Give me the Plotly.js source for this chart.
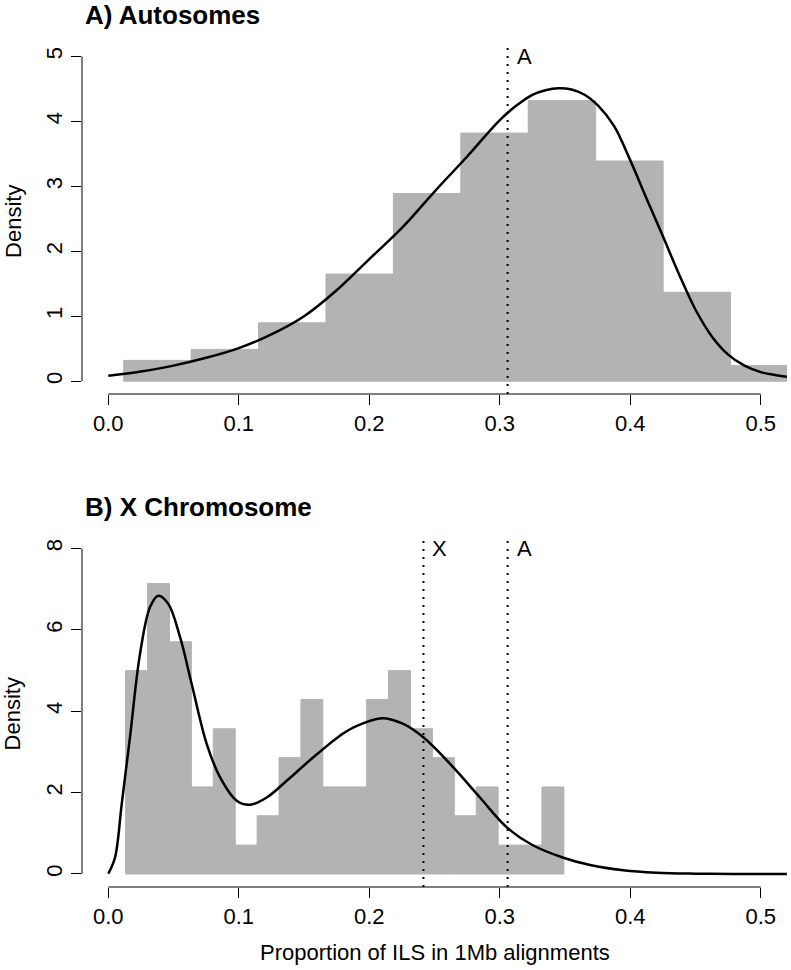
<!DOCTYPE html>
<html>
<head>
<meta charset="utf-8">
<script src="https://cdn.plot.ly/plotly-3.0.1.min.js"></script>
<style>
  html, body { margin: 0; padding: 0; background: #ffffff; }
  #chart { width: 791px; height: 970px; }
</style>
</head>
<body>
<div id="chart"></div>
<script>
// ---------- data ----------
// Panel A: autosomes histogram (density) — 10 equal bins
const autoBinStart = 0.0118;
const autoBinWidth = 0.05167;
const autoDensity = [0.32, 0.49, 0.90, 1.65, 2.89, 3.82, 4.32, 3.39, 1.37, 0.24];
// Panel A: smoothed density curve
const autoCurveX = [0, 0.025, 0.05, 0.075, 0.1, 0.125, 0.15, 0.175, 0.2, 0.225, 0.25, 0.275, 0.3, 0.3125, 0.325, 0.335, 0.345, 0.355, 0.365, 0.375, 0.3875, 0.4, 0.4125, 0.425, 0.4375, 0.45, 0.4625, 0.475, 0.4875, 0.5, 0.51, 0.52];
const autoCurveY = [0.083, 0.15, 0.24, 0.36, 0.51, 0.72, 1.00, 1.40, 1.88, 2.36, 2.92, 3.46, 4.02, 4.24, 4.41, 4.48, 4.51, 4.49, 4.41, 4.25, 3.93, 3.40, 2.81, 2.23, 1.64, 1.10, 0.69, 0.41, 0.24, 0.14, 0.10, 0.068];
// Panel B: X chromosome histogram (density) — 20 equal bins
const xBinStart = 0.0133;
const xBinWidth = 0.01679;
const xDensity = [5.00, 7.14, 5.71, 2.14, 3.57, 0.71, 1.43, 2.86, 4.29, 2.14, 2.14, 4.29, 5.00, 3.57, 2.86, 1.43, 2.14, 0.71, 0.71, 2.14];
// Panel B: smoothed density curve
const xCurveX = [0, 0.0051, 0.0103, 0.0166, 0.0243, 0.032, 0.0383, 0.046, 0.055, 0.0639, 0.0754, 0.0856, 0.0984, 0.1086, 0.1214, 0.1367, 0.1571, 0.1775, 0.1877, 0.2095, 0.2261, 0.2414, 0.2644, 0.2848, 0.3053, 0.3257, 0.3487, 0.3692, 0.3946, 0.42, 0.45, 0.48, 0.52];
const xCurveY = [0.01, 0.40, 1.72, 3.36, 5.41, 6.56, 6.84, 6.64, 5.82, 4.67, 3.20, 2.38, 1.80, 1.70, 1.88, 2.29, 2.87, 3.40, 3.60, 3.83, 3.69, 3.36, 2.62, 1.88, 1.15, 0.70, 0.40, 0.22, 0.09, 0.03, 0.008, 0.002, 0.0];
// Reference lines (means)
const meanA = 0.306;
const meanX = 0.2415;
// Tick labels
const xTickVals = [0, 0.1, 0.2, 0.3, 0.4, 0.5];
const xTickText = ['0.0', '0.1', '0.2', '0.3', '0.4', '0.5'];
const yTickValsA = [0, 1, 2, 3, 4, 5];
const yTickValsB = [0, 2, 4, 6, 8];
const titleA = 'A) Autosomes';
const titleB = 'B) X Chromosome';
const yTitle = 'Density';
const xTitle = 'Proportion of ILS in 1Mb alignments';

// ---------- build ----------
const FONT = '"Liberation Sans", Arial, Helvetica, sans-serif';
const BAR = '#b3b3b3';
const centers = (start, w, arr) => arr.map((_, i) => start + (i + 0.5) * w);

const traces = [
  { type: 'bar', x: centers(autoBinStart, autoBinWidth, autoDensity), y: autoDensity,
    width: autoDensity.map(() => autoBinWidth), marker: { color: BAR, line: { width: 1, color: BAR } },
    xaxis: 'x', yaxis: 'y', hoverinfo: 'skip' },
  { type: 'scatter', mode: 'lines', x: autoCurveX, y: autoCurveY,
    line: { color: '#000', width: 2.5, shape: 'spline', smoothing: 1 }, xaxis: 'x', yaxis: 'y' },
  { type: 'bar', x: centers(xBinStart, xBinWidth, xDensity), y: xDensity,
    width: xDensity.map(() => xBinWidth), marker: { color: BAR, line: { width: 1, color: BAR } },
    xaxis: 'x2', yaxis: 'y2', hoverinfo: 'skip' },
  { type: 'scatter', mode: 'lines', x: xCurveX, y: xCurveY,
    line: { color: '#000', width: 2.5, shape: 'spline', smoothing: 1 }, xaxis: 'x2', yaxis: 'y2' }
];

const xRange = [-0.02015, 0.52008];
const axFont = { family: FONT, size: 22, color: '#000' };
const xAxisCommon = {
  range: xRange, showgrid: false, zeroline: false, showline: false,
  tickmode: 'array', tickvals: xTickVals, ticktext: xTickText,
  ticks: 'outside', ticklen: 10, tickwidth: 1, tickcolor: '#000',
  tickfont: axFont, fixedrange: true
};
const yAxisCommon = {
  showgrid: false, zeroline: false, showline: false,
  ticks: 'outside', ticklen: 10, tickwidth: 1, tickcolor: '#000',
  tickfont: axFont, tickangle: -90, fixedrange: true
};

const shapes = [
  // axis lines spanning tick range (R style)
  { type: 'line', xref: 'x', yref: 'y domain', x0: 0, x1: 0.5, y0: 0, y1: 0, line: { color: '#000', width: 1 } },
  { type: 'line', xref: 'x domain', yref: 'y', x0: 0, x1: 0, y0: 0, y1: 5, line: { color: '#000', width: 1 } },
  { type: 'line', xref: 'x2', yref: 'y2 domain', x0: 0, x1: 0.5, y0: 0, y1: 0, line: { color: '#000', width: 1 } },
  { type: 'line', xref: 'x2 domain', yref: 'y2', x0: 0, x1: 0, y0: 0, y1: 8, line: { color: '#000', width: 1 } },
  // dotted mean lines
  { type: 'line', xref: 'x', yref: 'y domain', x0: meanA, x1: meanA, y0: 0, y1: 1, line: { color: '#000', width: 2, dash: '2px,6px' } },
  { type: 'line', xref: 'x2', yref: 'y2 domain', x0: meanX, x1: meanX, y0: 0, y1: 1, line: { color: '#000', width: 2, dash: '2px,6px' } },
  { type: 'line', xref: 'x2', yref: 'y2 domain', x0: meanA, x1: meanA, y0: 0, y1: 1, line: { color: '#000', width: 2, dash: '2px,6px' } }
];

const annFont = { family: FONT, size: 22, color: '#000' };
const annotations = [
  { text: '<b>' + titleA + '</b>', xref: 'paper', yref: 'paper', x: 0.0014, y: 1.0393, xanchor: 'left', yanchor: 'middle', showarrow: false, font: { family: FONT, size: 26, color: '#000' } },
  { text: '<b>' + titleB + '</b>', xref: 'paper', yref: 'paper', x: 0.0014, y: 0.4533, xanchor: 'left', yanchor: 'middle', showarrow: false, font: { family: FONT, size: 26, color: '#000' } },
  { text: yTitle, xref: 'paper', yref: 'paper', x: -0.0979, y: 0.7938, xanchor: 'center', yanchor: 'middle', textangle: -90, showarrow: false, font: annFont },
  { text: yTitle, xref: 'paper', yref: 'paper', x: -0.0979, y: 0.2068, xanchor: 'center', yanchor: 'middle', textangle: -90, showarrow: false, font: annFont },
  { text: xTitle, xref: 'paper', yref: 'paper', x: 0.5, y: -0.0775, xanchor: 'center', yanchor: 'middle', showarrow: false, font: annFont },
  { text: 'A', xref: 'x', yref: 'y', x: meanA, y: 5, xanchor: 'left', yanchor: 'middle', xshift: 7, showarrow: false, font: annFont },
  { text: 'X', xref: 'x2', yref: 'y2', x: meanX, y: 8, xanchor: 'left', yanchor: 'middle', xshift: 7, showarrow: false, font: annFont },
  { text: 'A', xref: 'x2', yref: 'y2', x: meanA, y: 8, xanchor: 'left', yanchor: 'middle', xshift: 7, showarrow: false, font: annFont }
];

const layout = {
  width: 791, height: 970,
  margin: { l: 82, r: 4, t: 48, b: 83 },
  paper_bgcolor: '#ffffff', plot_bgcolor: '#ffffff',
  showlegend: false, barmode: 'overlay',
  font: { family: FONT, size: 22, color: '#000' },
  xaxis: Object.assign({}, xAxisCommon, { anchor: 'y', domain: [0, 1] }),
  yaxis: Object.assign({}, yAxisCommon, { anchor: 'x', domain: [0.5876, 1], range: [-0.197, 5.13], tickvals: yTickValsA }),
  xaxis2: Object.assign({}, xAxisCommon, { anchor: 'y2', domain: [0, 1] }),
  yaxis2: Object.assign({}, yAxisCommon, { anchor: 'x2', domain: [0, 0.4136], range: [-0.32, 8.21], tickvals: yTickValsB }),
  shapes: shapes,
  annotations: annotations
};

Plotly.newPlot('chart', traces, layout, { displayModeBar: false, staticPlot: true });
</script>
</body>
</html>
